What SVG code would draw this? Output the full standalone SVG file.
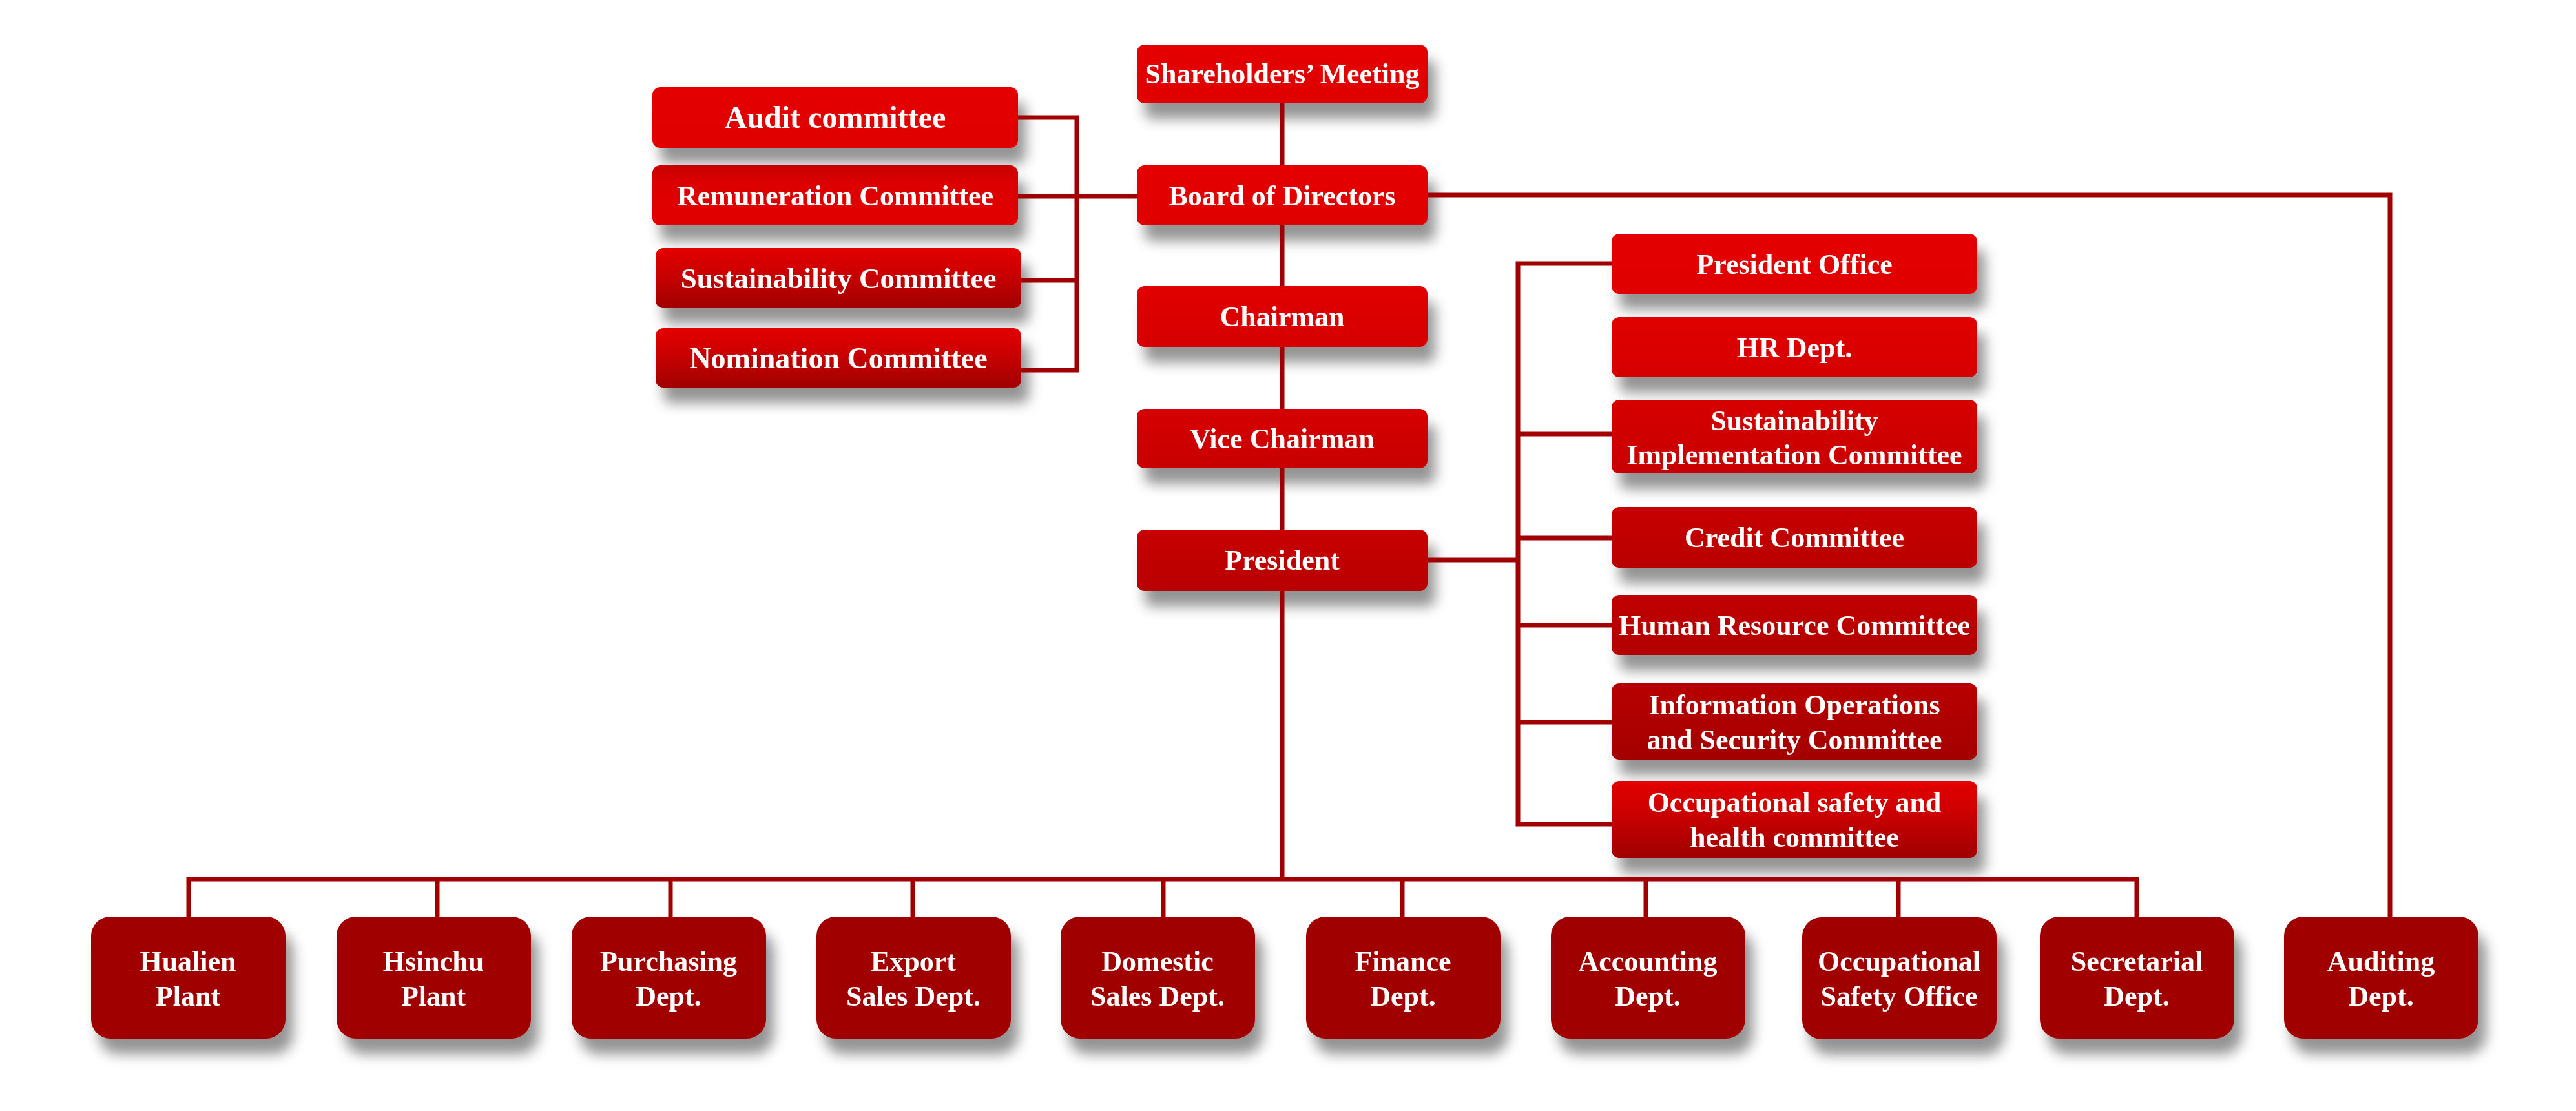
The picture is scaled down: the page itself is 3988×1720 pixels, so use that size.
<svg xmlns="http://www.w3.org/2000/svg" width="3988" height="1720" viewBox="0 0 3988 1720">
<defs>
<filter id="sh" x="-20%" y="-30%" width="150%" height="190%">
<feGaussianBlur in="SourceAlpha" stdDeviation="10"/>
<feOffset dx="12" dy="24" result="b"/>
<feFlood flood-color="#000" flood-opacity="0.42"/>
<feComposite in2="b" operator="in"/>
<feMerge><feMergeNode/><feMergeNode in="SourceGraphic"/></feMerge>
</filter>
<linearGradient id="g1" x1="0" y1="0" x2="0" y2="1"><stop offset="0" stop-color="#e40000"/><stop offset="1" stop-color="#e00000"/></linearGradient>
<linearGradient id="g2" x1="0" y1="0" x2="0" y2="1"><stop offset="0" stop-color="#e00000"/><stop offset="1" stop-color="#d60000"/></linearGradient>
<linearGradient id="g3" x1="0" y1="0" x2="0" y2="1"><stop offset="0" stop-color="#d60000"/><stop offset="1" stop-color="#c80000"/></linearGradient>
<linearGradient id="g4" x1="0" y1="0" x2="0" y2="1"><stop offset="0" stop-color="#c80000"/><stop offset="1" stop-color="#b80000"/></linearGradient>
<linearGradient id="g5" x1="0" y1="0" x2="0" y2="1"><stop offset="0" stop-color="#c00000"/><stop offset="1" stop-color="#b20000"/></linearGradient>
<linearGradient id="g6" x1="0" y1="0" x2="0" y2="1"><stop offset="0" stop-color="#b80000"/><stop offset="1" stop-color="#a40000"/></linearGradient>
<linearGradient id="g7" x1="0" y1="0" x2="0" y2="1"><stop offset="0" stop-color="#e20000"/><stop offset="0.35" stop-color="#d00000"/><stop offset="1" stop-color="#a00000"/></linearGradient>
<linearGradient id="g8" x1="0" y1="0" x2="0" y2="1"><stop offset="0" stop-color="#c80000"/><stop offset="0.3" stop-color="#dc0000"/><stop offset="1" stop-color="#e20000"/></linearGradient>
</defs>
<style>
.t{font-family:"Liberation Serif","Times New Roman",serif;font-weight:bold;font-size:44px;fill:#fff;text-anchor:middle}
.c{fill:none;stroke:#a20000;stroke-width:7}
.bot{fill:#a00000}
</style>
<rect width="3988" height="1720" fill="#fff"/>

<g filter="url(#sh)">
<g id="n-shareholders"><rect x="1760" y="69" width="450" height="91" rx="12" fill="url(#g1)"/><text class="t" x="1985" y="129">Shareholders’ Meeting</text></g>
<g id="n-board"><rect x="1760" y="256" width="450" height="93" rx="12" fill="url(#g1)"/><text class="t" x="1985" y="318">Board of  Directors</text></g>
<g id="n-chairman"><rect x="1760" y="443" width="450" height="94" rx="12" fill="url(#g2)"/><text class="t" x="1985" y="505">Chairman</text></g>
<g id="n-vice"><rect x="1760" y="633" width="450" height="92" rx="12" fill="url(#g3)"/><text class="t" x="1985" y="694">Vice Chairman</text></g>
<g id="n-president"><rect x="1760" y="820" width="450" height="95" rx="12" fill="url(#g4)"/><text class="t" x="1985" y="882">President</text></g>

<g id="n-audit"><rect x="1010" y="135" width="566" height="94" rx="12" fill="url(#g1)"/><text class="t" x="1293" y="198" style="font-size:48px">Audit committee</text></g>
<g id="n-remuneration"><rect x="1010" y="256" width="566" height="93" rx="12" fill="url(#g8)"/><text class="t" x="1293" y="318">Remuneration  Committee</text></g>
<g id="n-sustain"><rect x="1015" y="384" width="566" height="93" rx="12" fill="url(#g7)"/><text class="t" x="1298" y="446" style="font-size:45px">Sustainability  Committee</text></g>
<g id="n-nomination"><rect x="1015" y="508" width="566" height="92" rx="12" fill="url(#g7)"/><text class="t" x="1298" y="570" style="font-size:46px">Nomination Committee</text></g>

<g id="n-presoffice"><rect x="2495" y="362" width="566" height="93" rx="12" fill="url(#g1)"/><text class="t" x="2778" y="424">President Office</text></g>
<g id="n-hr"><rect x="2495" y="491" width="566" height="93" rx="12" fill="url(#g2)"/><text class="t" x="2778" y="553">HR Dept.</text></g>
<g id="n-sic"><rect x="2495" y="619" width="566" height="114" rx="12" fill="url(#g3)"/><text class="t" x="2778" y="666">Sustainability</text><text class="t" x="2778" y="719">Implementation  Committee</text></g>
<g id="n-credit"><rect x="2495" y="785" width="566" height="94" rx="12" fill="url(#g4)"/><text class="t" x="2778" y="847">Credit Committee</text></g>
<g id="n-hrc"><rect x="2495" y="921" width="566" height="93" rx="12" fill="url(#g5)"/><text class="t" x="2778" y="983">Human Resource Committee</text></g>
<g id="n-info"><rect x="2495" y="1058" width="566" height="118" rx="12" fill="url(#g6)"/><text class="t" x="2778" y="1106">Information Operations</text><text class="t" x="2778" y="1160">and Security Committee</text></g>
<g id="n-osh"><rect x="2495" y="1209" width="566" height="119" rx="12" fill="url(#g7)"/><text class="t" x="2778" y="1257">Occupational safety and</text><text class="t" x="2778" y="1311">health committee</text></g>

<g id="n-hualien"><rect class="bot" x="141" y="1419" width="301" height="189" rx="30"/><text class="t" x="291" y="1503">Hualien</text><text class="t" x="291" y="1557">Plant</text></g>
<g id="n-hsinchu"><rect class="bot" x="521" y="1419" width="301" height="189" rx="30"/><text class="t" x="671" y="1503">Hsinchu</text><text class="t" x="671" y="1557">Plant</text></g>
<g id="n-purchasing"><rect class="bot" x="885" y="1419" width="301" height="189" rx="30"/><text class="t" x="1035" y="1503">Purchasing</text><text class="t" x="1035" y="1557">Dept.</text></g>
<g id="n-export"><rect class="bot" x="1264" y="1419" width="301" height="189" rx="30"/><text class="t" x="1414" y="1503">Export</text><text class="t" x="1414" y="1557">Sales Dept.</text></g>
<g id="n-domestic"><rect class="bot" x="1642" y="1419" width="301" height="189" rx="30"/><text class="t" x="1792" y="1503">Domestic</text><text class="t" x="1792" y="1557">Sales Dept.</text></g>
<g id="n-finance"><rect class="bot" x="2022" y="1419" width="301" height="189" rx="30"/><text class="t" x="2172" y="1503">Finance</text><text class="t" x="2172" y="1557">Dept.</text></g>
<g id="n-accounting"><rect class="bot" x="2401" y="1419" width="301" height="189" rx="30"/><text class="t" x="2551" y="1503">Accounting</text><text class="t" x="2551" y="1557">Dept.</text></g>
<g id="n-oso"><rect class="bot" x="2790" y="1420" width="301" height="189" rx="30"/><text class="t" x="2940" y="1503">Occupational</text><text class="t" x="2940" y="1557">Safety Office</text></g>
<g id="n-secretarial"><rect class="bot" x="3158" y="1419" width="301" height="189" rx="30"/><text class="t" x="3308" y="1503">Secretarial</text><text class="t" x="3308" y="1557">Dept.</text></g>
<g id="n-auditing"><rect class="bot" x="3536" y="1419" width="301" height="189" rx="30"/><text class="t" x="3686" y="1503">Auditing</text><text class="t" x="3686" y="1557">Dept.</text></g>
</g>

<g id="connectors" class="c">
<path class="c" d="M1985 160V256M1985 349V443M1985 537V633M1985 725V820M1985 915V1361"/>
<path class="c" d="M292 1419V1361H3308V1419"/>
<path class="c" d="M677 1361V1419M1038 1361V1419M1413 1361V1419M1801 1361V1419M2171 1361V1419M2548 1361V1419M2939 1361V1420"/>
<path class="c" d="M2210 302H3700V1419"/>
<path class="c" d="M1576 182H1667V573H1581M1576 304H1760M1581 434H1667"/>
<path class="c" d="M2210 867H2350M2495 408H2350V1276H2495M2350 672H2495M2350 833H2495M2350 968H2495M2350 1118H2495"/>
</g>
</svg>
